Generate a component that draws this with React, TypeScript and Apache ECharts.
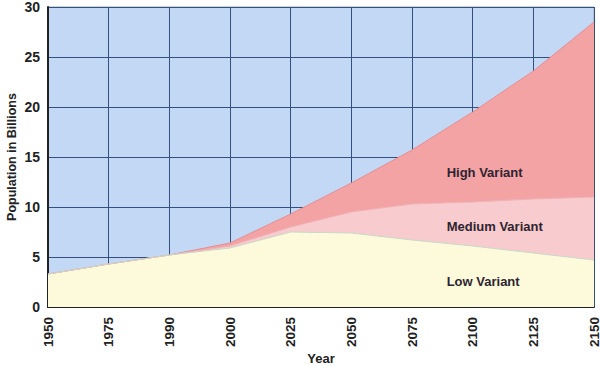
import React, { useEffect, useRef } from "react";
import * as echarts from "echarts";

const years = ["1950", "1975", "1990", "2000", "2025", "2050", "2075", "2100", "2125", "2150"];
const highVariant = [3.3, 4.3, 5.2, 6.4, 9.3, 12.4, 15.7, 19.5, 23.6, 28.5];
const mediumVariant = [3.3, 4.3, 5.2, 6.1, 8.0, 9.5, 10.3, 10.5, 10.8, 11.0];
const lowVariant = [3.3, 4.3, 5.2, 5.9, 7.5, 7.4, 6.7, 6.1, 5.4, 4.7];
const variantLabels = ["High Variant", "Medium Variant", "Low Variant"];
const labelValues = [13.5, 8.1, 2.6];

export default function App() {
  const ref = useRef<HTMLDivElement>(null);
  useEffect(() => {
    if (!ref.current) return;
    const chart = echarts.init(ref.current, null, { renderer: "svg" });
    const font = "'Liberation Sans', Arial, sans-serif";
    const mkArea = (name: string, data: number[], fill: string, line: string) => ({
      name,
      type: "line",
      data,
      symbol: "none",
      smooth: false,
      lineStyle: { color: line, width: 1 },
      areaStyle: { color: fill, opacity: 1, origin: "start" },
      z: 2,
    });
    chart.setOption({
      animation: false,
      textStyle: { fontFamily: font },
      grid: {
        left: 48,
        right: 6,
        top: 7,
        bottom: 59,
        show: true,
        outerBoundsMode: "none",
        containLabel: false,
        backgroundColor: "#c2d8f4",
        borderColor: "#9aa6b8",
        borderWidth: 1,
      },
      xAxis: {
        type: "category",
        data: years,
        boundaryGap: false,
        name: "Year",
        nameLocation: "middle",
        nameGap: 45,
        nameMoveOverlap: false,
        nameTextStyle: { fontWeight: "bold", fontSize: 13, color: "#222", fontFamily: font },
        axisLine: { show: true, lineStyle: { color: "#222", width: 2 } },
        axisTick: { show: false },
        axisLabel: { rotate: 90, margin: 10, fontWeight: "bold", fontSize: 13.5, color: "#222", fontFamily: font },
        splitLine: { show: true, lineStyle: { color: "#34507e", width: 1 } },
      },
      yAxis: {
        type: "value",
        min: 0,
        max: 30,
        interval: 5,
        name: "Population in Billions",
        nameLocation: "middle",
        nameGap: 30,
        nameMoveOverlap: false,
        nameTextStyle: { fontWeight: "bold", fontSize: 12.5, color: "#222", fontFamily: font },
        axisLine: { show: true, lineStyle: { color: "#222", width: 2 } },
        axisTick: { show: false },
        axisLabel: { margin: 8, fontWeight: "bold", fontSize: 14, color: "#222", fontFamily: font },
        splitLine: { show: true, lineStyle: { color: "#34507e", width: 1 } },
      },
      series: [
        mkArea("High Variant", highVariant, "#f4a3a5", "#e58e92"),
        mkArea("Medium Variant", mediumVariant, "#f8cbce", "#eeb3b7"),
        {
          ...mkArea("Low Variant", lowVariant, "#fdfadc", "#c8d8c8"),
          markPoint: {
            symbol: "circle",
            symbolSize: 0,
            data: variantLabels.map((t, i) => ({
              coord: [7, labelValues[i]],
              value: t,
            })),
            label: {
              show: true,
              position: "right",
              offset: [-31, 0],
              formatter: (p: any) => p.value,
              fontWeight: "bold",
              fontSize: 13,
              color: "#2e2430",
              fontFamily: font,
            },
          },
        },
      ],
    });
    return () => chart.dispose();
  }, []);
  return <div ref={ref} style={{ width: 600, height: 366, position: "absolute", left: 0, top: 0 }} />;
}
